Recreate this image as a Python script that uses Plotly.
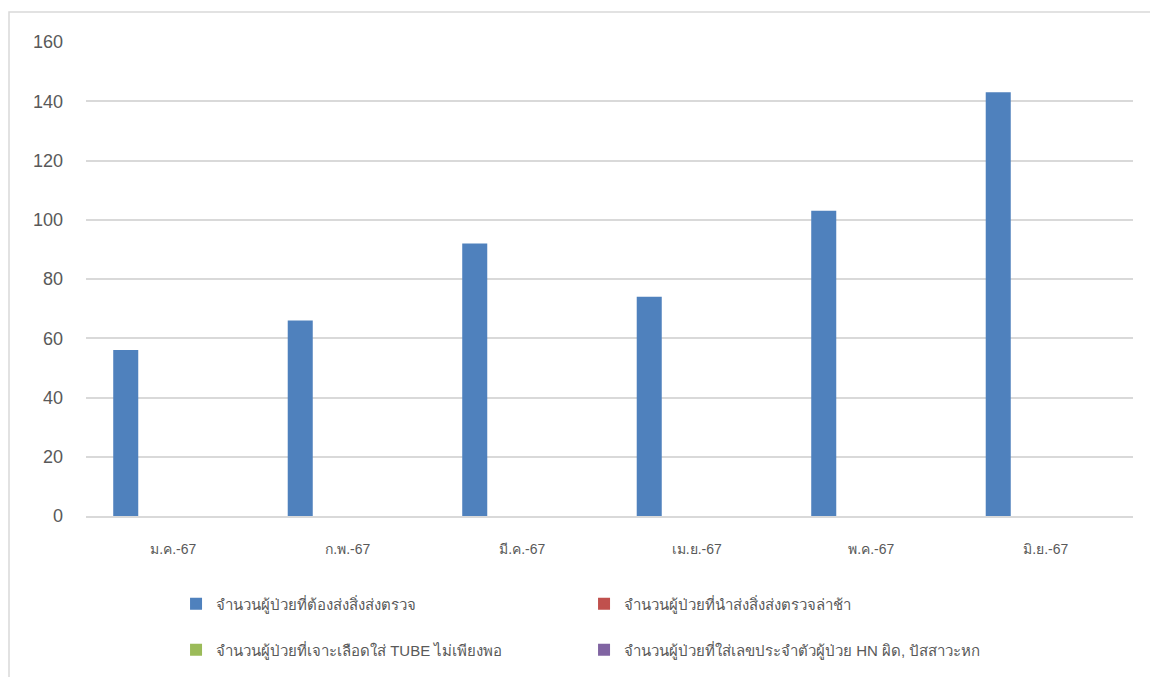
import plotly.graph_objects as go

months = ["ม.ค.-67", "ก.พ.-67", "มี.ค.-67", "เม.ย.-67", "พ.ค.-67", "มิ.ย.-67"]
series_names = [
    "จำนวนผู้ป่วยที่ต้องส่งสิ่งส่งตรวจ",
    "จำนวนผู้ป่วยที่นำส่งสิ่งส่งตรวจล่าช้า",
    "จำนวนผู้ป่วยที่เจาะเลือดใส่ TUBE ไม่เพียงพอ",
    "จำนวนผู้ป่วยที่ใส่เลขประจำตัวผู้ป่วย HN ผิด, ปัสสาวะหก",
]
need_specimen = [56, 66, 92, 74, 103, 143]
late_delivery = [0, 0, 0, 0, 0, 0]
tube_insufficient = [0, 0, 0, 0, 0, 0]
wrong_hn = [0, 0, 0, 0, 0, 0]
colors = ["#4f81bd", "#c0504d", "#9bbb59", "#8064a2"]

FONT = "Liberation Sans, Noto Sans, sans-serif"
GREY = "#595959"

fig = go.Figure()
all_values = [need_specimen, late_delivery, tube_insufficient, wrong_hn]
for i, (name, vals, col) in enumerate(zip(series_names, all_values, colors)):
    fig.add_trace(go.Bar(
        x=months, y=vals, name=name,
        marker=dict(color=col, line=dict(width=0)),
        legend="legend" if i < 2 else "legend2",
    ))

legend_common = dict(
    orientation="h", xanchor="left", yanchor="middle",
    entrywidth=363, entrywidthmode="pixels",
    font=dict(family=FONT, size=15, color=GREY),
    bgcolor="rgba(0,0,0,0)", itemwidth=30,
)

fig.update_layout(
    width=1150, height=677,
    margin=dict(l=86, r=17, t=42, b=160),
    paper_bgcolor="white", plot_bgcolor="white",
    barmode="group", bargap=0.274, bargroupgap=0.21,
    showlegend=True,
    legend=dict(x=0.086, y=-(604 - 517) / 475, **legend_common),
    legend2=dict(x=0.086, y=-(650 - 517) / 475, **legend_common),
    xaxis=dict(
        showgrid=False, showline=True, linecolor="#d9d9d9", linewidth=1.5,
        tickfont=dict(family=FONT, size=14, color=GREY),
        ticks="", ticklabelstandoff=19, zeroline=False,
    ),
    yaxis=dict(
        range=[0, 160], dtick=20, showgrid=True, gridcolor="#d9d9d9", gridwidth=1.5,
        zeroline=False, showline=False,
        tickfont=dict(family=FONT, size=18, color=GREY),
        ticks="", ticklabelstandoff=22,
    ),
    shapes=[dict(
        type="rect", xref="paper", yref="paper",
        x0=(9 - 86) / 1047, x1=1.2, y0=-0.6, y1=(517 - 12) / 475,
        line=dict(color="#d9d9d9", width=1.5), fillcolor="rgba(0,0,0,0)",
        layer="below",
    )],
)

fig.write_html("out.html")
